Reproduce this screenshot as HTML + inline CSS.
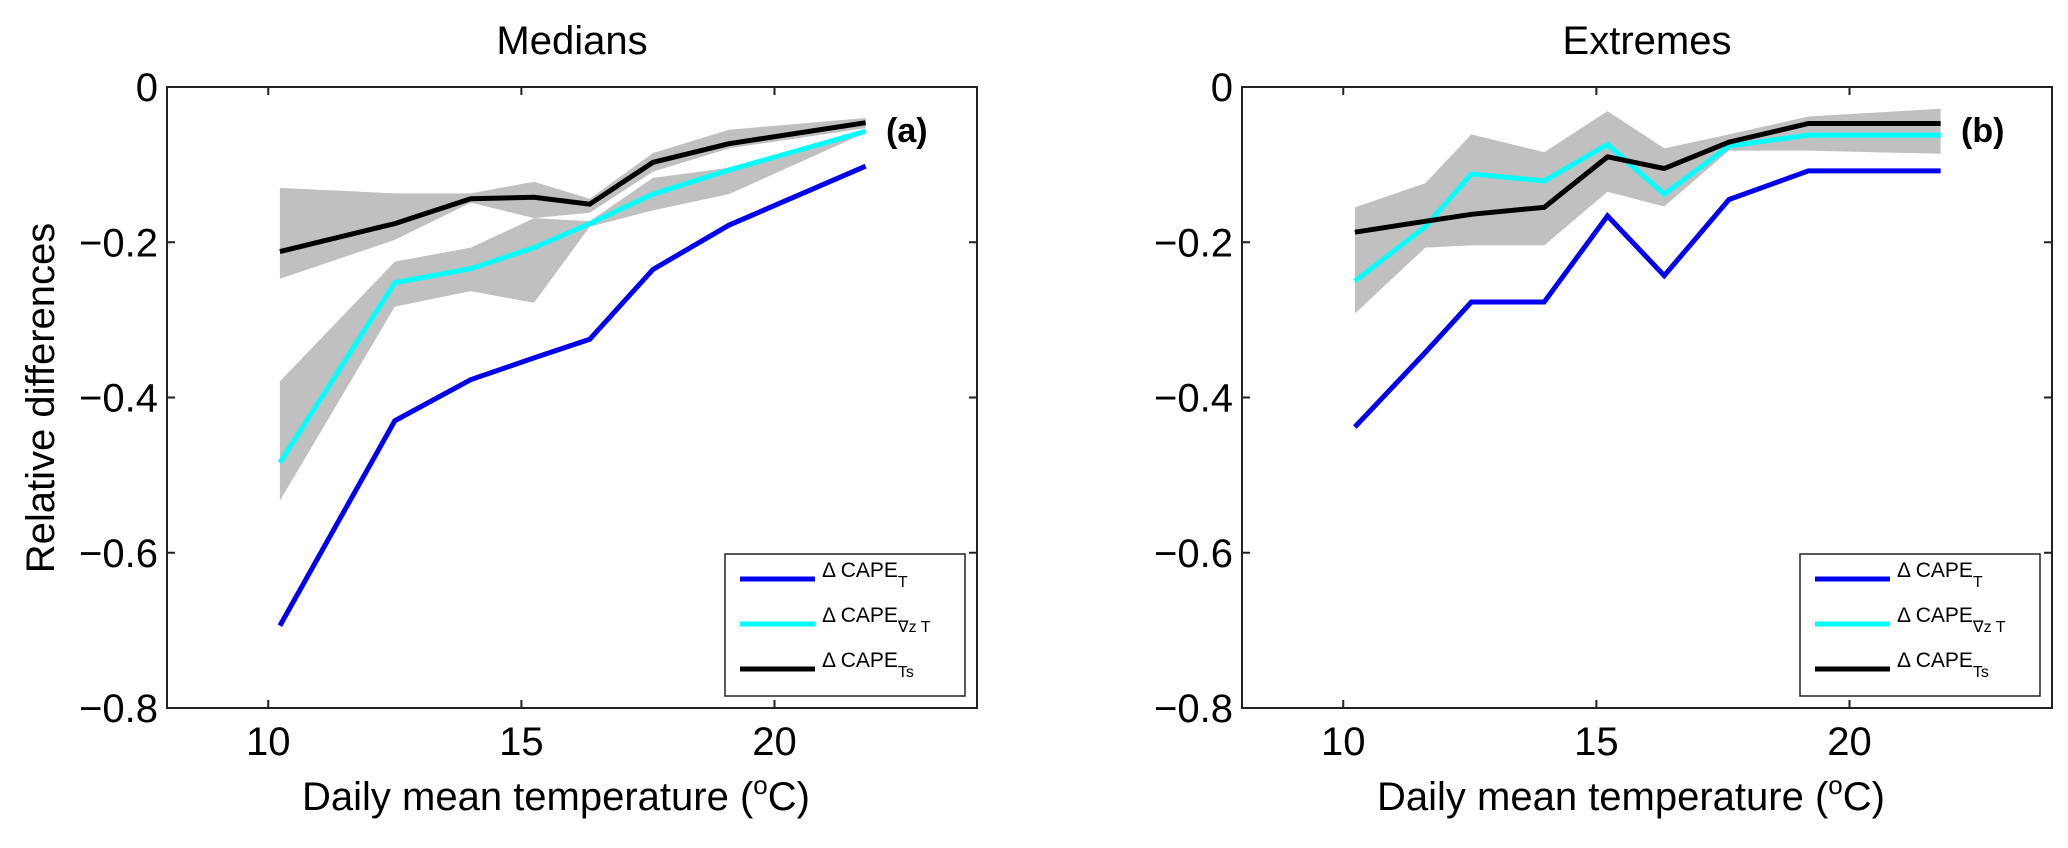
<!DOCTYPE html>
<html><head><meta charset="utf-8"><style>
html,body{margin:0;padding:0;background:#fff;}
svg text{font-family:"Liberation Sans",Arial,sans-serif;fill:#000;}
</style></head><body>
<svg id="fig" width="2068" height="843" viewBox="0 0 2068 843" xmlns="http://www.w3.org/2000/svg"></svg>
<script>
// ---- Panel (a) Medians data ----
const tempsA = [10.23, 12.5, 14.0, 15.25, 16.35, 17.6, 19.1, 21.8];
const blueA = [-0.694, -0.43, -0.377, -0.349, -0.325, -0.235, -0.178, -0.102];
const cyanA = [-0.484, -0.252, -0.234, -0.207, -0.176, -0.138, -0.107, -0.057];
const blackA = [-0.212, -0.176, -0.144, -0.142, -0.151, -0.097, -0.073, -0.046];
const cyanUpA = [-0.379, -0.225, -0.207, -0.169, -0.173, -0.117, -0.104, -0.055];
const cyanLoA = [-0.533, -0.283, -0.263, -0.278, -0.180, -0.159, -0.138, -0.059];
const blackUpA = [-0.130, -0.137, -0.137, -0.122, -0.144, -0.085, -0.055, -0.040];
const blackLoA = [-0.247, -0.197, -0.149, -0.169, -0.162, -0.109, -0.079, -0.053];
// ---- Panel (b) Extremes data ----
const tempsB = [10.23, 11.62, 12.53, 13.97, 15.22, 16.34, 17.62, 19.19, 21.8];
const blueB = [-0.438, -0.342, -0.277, -0.277, -0.166, -0.243, -0.145, -0.108, -0.108];
const cyanB = [-0.250, -0.180, -0.112, -0.121, -0.074, -0.138, -0.076, -0.062, -0.062];
const blackB = [-0.187, -0.173, -0.164, -0.155, -0.090, -0.105, -0.071, -0.047, -0.047];
const bandUpB = [-0.155, -0.124, -0.061, -0.084, -0.031, -0.079, -0.061, -0.038, -0.028];
const bandLoB = [-0.292, -0.207, -0.204, -0.204, -0.135, -0.154, -0.082, -0.082, -0.086];
// ---- Axes ticks ----
const xTicks = [10, 15, 20];
const yTicks = [0, -0.2, -0.4, -0.6, -0.8];
const yTickLabels = ["0", "\u22120.2", "\u22120.4", "\u22120.6", "\u22120.8"];

const NS = "http://www.w3.org/2000/svg";
const svg = document.getElementById('fig');
function mk(tag, attrs, parent) {
  const e = document.createElementNS(NS, tag);
  for (const k in attrs) e.setAttribute(k, attrs[k]);
  (parent || svg).appendChild(e);
  return e;
}

function panel(opts) {
  const L = opts.left, R = opts.left + 810, T = 87, B = 708;
  const sx = v => L + (v - 8) / 16 * (R - L);
  const sy = v => T + (0 - v) / 0.8 * (B - T);
  const g = mk('g', {});
  
  

  const title = mk('text', {x: (L + R) / 2, y: 54, 'font-size': 40, 'text-anchor': 'middle'}, g);
  
  
  title.textContent = opts.title;

  opts.bands.forEach(b => {
    let d = '';
    b.up.forEach((v, i) => { d += (i ? 'L' : 'M') + sx(b.x[i]) + ',' + sy(v); });
    for (let i = b.lo.length - 1; i >= 0; i--) d += 'L' + sx(b.x[i]) + ',' + sy(b.lo[i]);
    const p = mk('path', {d: d + 'Z', fill: '#c0c0c0', stroke: 'none'}, g);
    
    
  });

  opts.series.forEach(s => {
    const pts = s.y.map((v, i) => sx(s.x[i]) + ',' + sy(v)).join(' ');
    const pl = mk('polyline', {points: pts, fill: 'none', stroke: s.color, 'stroke-width': 5, 'stroke-linejoin': 'miter'}, g);
    
    
  });

  const box = mk('rect', {x: L, y: T, width: R - L, height: B - T, fill: 'none', stroke: '#222', 'stroke-width': 2}, g);
  
  

  xTicks.forEach(t => {
    const x = sx(t);
    mk('line', {x1: x, x2: x, y1: B, y2: B - 8, stroke: '#222', 'stroke-width': 2}, g);
    mk('line', {x1: x, x2: x, y1: T, y2: T + 8, stroke: '#222', 'stroke-width': 2}, g);
    const tl = mk('text', {x: x, y: 755, 'font-size': 40, 'text-anchor': 'middle'}, g);
    
    
    tl.textContent = t;
  });
  yTicks.forEach((t, i) => {
    const y = sy(t);
    mk('line', {x1: L, x2: L + 8, y1: y, y2: y, stroke: '#222', 'stroke-width': 2}, g);
    mk('line', {x1: R, x2: R - 8, y1: y, y2: y, stroke: '#222', 'stroke-width': 2}, g);
    const tl = mk('text', {x: L - 9, y: y + 14, 'font-size': 40, 'text-anchor': 'end'}, g);
    
    
    tl.textContent = yTickLabels[i];
  });

  const xl = mk('text', {x: L + 135, y: 810, 'font-size': 40}, g);
  
  
  xl.innerHTML = 'Daily mean temperature (<tspan dy="-16" font-size="26">o</tspan><tspan dy="16">C)</tspan>';

  const pl = mk('text', {x: R - 91, y: 142, 'font-size': 34, 'font-weight': 'bold'}, g);
  
  
  pl.textContent = opts.label;

  const lx = R - 252, ly = 554;
  const lg = mk('g', {}, g);
  
  
  mk('rect', {x: lx, y: ly, width: 240, height: 142, fill: '#fff', stroke: '#222', 'stroke-width': 1.5}, lg);
  const entries = [['#0000ee', 'T', 'legend-entry-cape-t'], ['#00ffff', '\u2207z T', 'legend-entry-cape-dzt'], ['#000', 'Ts', 'legend-entry-cape-ts']];
  entries.forEach((e, i) => {
    const y = ly + 25 + i * 45;
    const eg = mk('g', {}, lg);
    
    
    mk('line', {x1: lx + 15, x2: lx + 90, y1: y, y2: y, stroke: e[0], 'stroke-width': 5}, eg);
    const t = mk('text', {x: lx + 97, y: y - 2, 'font-size': 21}, eg);
    t.innerHTML = '\u0394 CAPE<tspan dy="10" font-size="16">' + e[1] + '</tspan>';
  });
  return g;
}

panel({left: 167, name: 'panel-medians', title: 'Medians', label: '(a)',
  bands: [{x: tempsA, up: cyanUpA, lo: cyanLoA}, {x: tempsA, up: blackUpA, lo: blackLoA}],
  series: [{x: tempsA, y: blueA, color: '#0000ee', name: 'line-cape-t'},
           {x: tempsA, y: cyanA, color: '#00ffff', name: 'line-cape-dzt'},
           {x: tempsA, y: blackA, color: '#000', name: 'line-cape-ts'}]});
panel({left: 1242, name: 'panel-extremes', title: 'Extremes', label: '(b)',
  bands: [{x: tempsB, up: bandUpB, lo: bandLoB}],
  series: [{x: tempsB, y: blueB, color: '#0000ee', name: 'line-cape-t'},
           {x: tempsB, y: cyanB, color: '#00ffff', name: 'line-cape-dzt'},
           {x: tempsB, y: blackB, color: '#000', name: 'line-cape-ts'}]});

const yl = mk('text', {x: 0, y: 0, 'font-size': 40, 'text-anchor': 'middle', transform: 'translate(54,398) rotate(-90)'});


yl.textContent = 'Relative differences';
</script>
</body></html>
